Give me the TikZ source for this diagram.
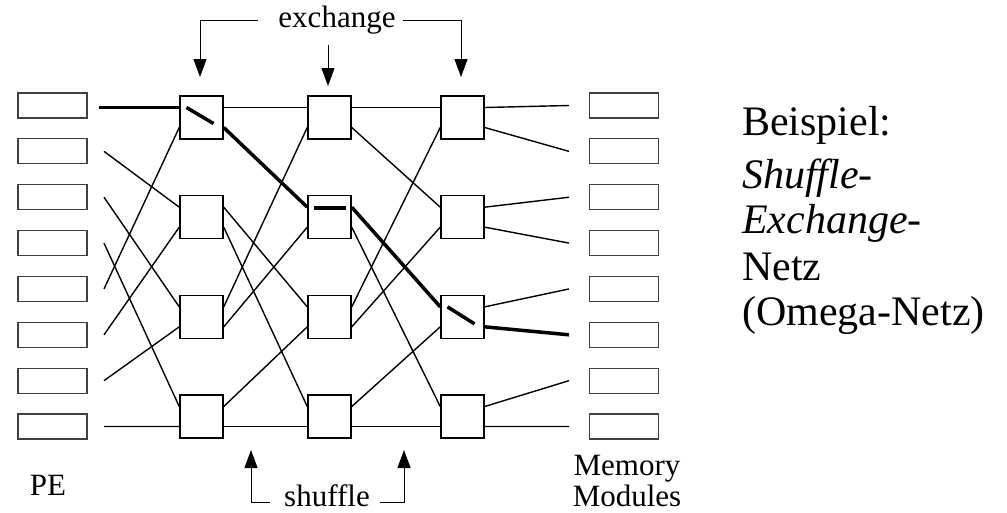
\documentclass[tikz,border=0pt]{standalone}
\usepackage{fontspec}
\setmainfont{Liberation Serif}
\newfontfamily\serifbig{Liberation Serif}
\usetikzlibrary{calc,arrows.meta}
\newcommand{\bigline}[1]{\scalebox{1.355}{\serifbig\fontsize{31}{37}\selectfont #1}}
\begin{document}
\begin{tikzpicture}[x=1pt,y=-1pt,
  membox/.style={draw=black!75, line width=1.1pt, minimum width=69pt, minimum height=25pt, inner sep=0pt},
  swbox/.style={draw, line width=1.5pt, minimum size=43pt, inner sep=0pt},
  wire/.style={line width=1.4pt},
  hot/.style={line width=3.5pt},
  arr/.style={-{Triangle[width=13pt,length=18pt]}, line width=1pt, draw=black},
  lbl/.style={font=\serifbig\fontsize{31}{37}\selectfont, inner sep=0pt},
  bigtxt/.style={inner sep=0pt, anchor=base west}]
\useasboundingbox (0,0) rectangle (1007,512);

% PE and memory boxes
\foreach \i in {0,...,7} {
  \pgfmathsetmacro\yy{105.5+45.86*\i}
  \node[membox] (pe\i) at (52.5,\yy) {};
  \node[membox] (m\i) at (624,\yy) {};
  \coordinate (pa\i) at (104,\yy);
  \coordinate (ma\i) at (569,\yy);
}

% switches
\foreach \c/\x in {1/201.5,2/329.5,3/462.5} {
  \foreach \r in {0,...,3} {
    \pgfmathsetmacro\yy{117.5+99.67*\r}
    \pgfmathtruncatemacro\pu{2*\r}
    \pgfmathtruncatemacro\pl{2*\r+1}
    \node[swbox] (s\c\r) at (\x,\yy) {};
    \coordinate (in\c-\pu) at ($(s\c\r.west)+(0,-10)$);
    \coordinate (in\c-\pl) at ($(s\c\r.west)+(0,10)$);
    \coordinate (out\c-\pu) at ($(s\c\r.east)+(0,-10)$);
    \coordinate (out\c-\pl) at ($(s\c\r.east)+(0,10)$);
  }
}

% PE -> stage 1 (perfect shuffle)
\foreach \i/\j in {1/2,2/4,3/6,4/1,5/3,6/5,7/7} \draw[wire] (pa\i) -- (in1-\j);
\coordinate (pa0h) at (99,107.5);
\draw[hot] (pa0h) -- (in1-0);

% stage 1 -> stage 2
\foreach \q/\s in {0/0,2/4,3/6,4/1,5/3,6/5,7/7} \draw[wire] (out1-\q) -- (in2-\s);
\draw[hot] (out1-1) -- (in2-2);

% stage 2 -> stage 3
\foreach \q/\s in {0/0,1/2,3/6,4/1,5/3,6/5,7/7} \draw[wire] (out2-\q) -- (in3-\s);
\draw[hot] (out2-2) -- (in3-4);

% stage 3 -> memory
\foreach \q in {0,1,2,3,4,6,7} \draw[wire] (out3-\q) -- (ma\q);
\draw[hot] (out3-5) -- (ma5);

% switch settings on the highlighted path
\draw[hot] ($(s10.center)+(-15,-10)$) -- ($(s10.center)+(12,6)$);
\draw[hot] ($(s21.center)+(-16,-9)$) -- ($(s21.center)+(16,-9)$);
\draw[hot] ($(s32.center)+(-15,-10)$) -- ($(s32.center)+(12,7)$);

% exchange label and arrows
\node[lbl, anchor=base] (ex) at (337,27) {exchange};
\coordinate (exL) at (258,20);
\coordinate (exR) at (403,20);
\coordinate (exM) at (328,45);
\coordinate (tip1) at (200,77);
\coordinate (tip2) at (328,86);
\coordinate (tip3) at (461,77);
\draw[arr] (exL) -- (tip1 |- exL) -- (tip1);
\draw[arr] (exR) -- (tip3 |- exR) -- (tip3);
\draw[arr] (exM) -- (tip2);

% shuffle label and arrows
\node[lbl, anchor=base] (sh) at (327,506) {shuffle};
\coordinate (shL) at (270,502);
\coordinate (shR) at (380,502);
\coordinate (tip4) at (251,450);
\coordinate (tip5) at (404,450);
\draw[arr] (shL) -- (tip4 |- shL) -- (tip4);
\draw[arr] (shR) -- (tip5 |- shR) -- (tip5);

% side labels
\node[lbl, anchor=base] (pel) at (48,495) {PE};
\node[lbl, anchor=base] (mm1) at (627,475) {Memory};
\node[lbl, anchor=base] (mm2) at (627,506) {Modules};

% right text
\node[bigtxt] (t1) at (742,135) {\bigline{Beispiel:}};
\node[bigtxt] (t2) at (742,188) {\bigline{\itshape Shuffle-}};
\node[bigtxt] (t3) at (742,233) {\bigline{\itshape Exchange-}};
\node[bigtxt] (t4) at (742,280) {\bigline{Netz}};
\node[bigtxt] (t5) at (742,325) {\bigline{(Omega-Netz)}};
\end{tikzpicture}
\end{document}
